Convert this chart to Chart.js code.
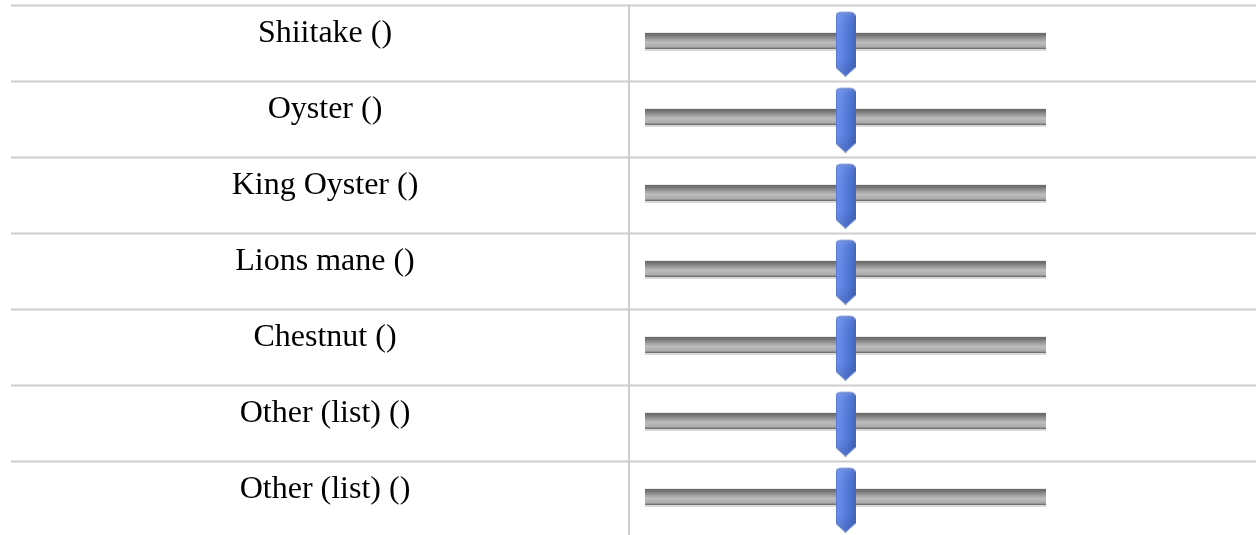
<!DOCTYPE html>
<html>
<head>
<meta charset="utf-8">
<script src="https://cdn.jsdelivr.net/npm/chart.js@4.4.1/dist/chart.umd.min.js"></script>
<style>
  html, body { margin: 0; padding: 0; background: #ffffff; overflow: hidden; }
  #wrap { width: 1256px; height: 545px; }
  canvas { display: block; }
</style>
</head>
<body>
<div id="wrap"><canvas id="c" width="1256" height="545"></canvas></div>
<script>
// ---- data ----
const categories = ["Shiitake ()", "Oyster ()", "King Oyster ()", "Lions mane ()", "Chestnut ()", "Other (list) ()", "Other (list) ()"];
const sliderValues = [50, 50, 50, 50, 50, 50, 50];
const sliderMin = 0;
const sliderMax = 100;

// ---- thumb image (pointStyle) ----
function makeThumb() {
  const w = 20, h = 66;
  const c = document.createElement('canvas');
  c.width = w; c.height = h;
  const g = c.getContext('2d');
  const path = () => {
    g.beginPath();
    const r = 4, top = 2, bodyBottom = 57, tip = 65.5;
    g.moveTo(0.5, top + r);
    g.quadraticCurveTo(0.5, top, 0.5 + r, top);
    g.lineTo(w - 0.5 - r, top);
    g.quadraticCurveTo(w - 0.5, top, w - 0.5, top + r);
    g.lineTo(w - 0.5, bodyBottom);
    g.lineTo(w / 2, tip);
    g.lineTo(0.5, bodyBottom);
    g.closePath();
  };
  path();
  const gr = g.createLinearGradient(0, 0, w, 0);
  gr.addColorStop(0, '#6f93ee');
  gr.addColorStop(0.45, '#5a80e2');
  gr.addColorStop(1, '#3f68c2');
  g.fillStyle = gr;
  g.fill();
  const gv = g.createLinearGradient(0, 0, 0, h);
  gv.addColorStop(0, 'rgba(255,255,255,0.35)');
  gv.addColorStop(0.08, 'rgba(255,255,255,0.05)');
  gv.addColorStop(0.7, 'rgba(0,0,0,0)');
  gv.addColorStop(1, 'rgba(0,20,80,0.15)');
  g.fillStyle = gv;
  g.fill();
  g.lineWidth = 1;
  g.strokeStyle = '#4566b8';
  g.stroke();
  return c;
}
const thumbImg = makeThumb();

// ---- table / track plugin ----
const tablePlugin = {
  id: 'table',
  beforeDatasetsDraw(chart) {
    const ctx = chart.ctx;
    const x = chart.scales.x, y = chart.scales.y;
    const band = y.getPixelForValue(1) - y.getPixelForValue(0);
    ctx.save();
    // grid lines
    ctx.strokeStyle = '#cdcdcd';
    ctx.lineWidth = 2;
    for (let i = 0; i < categories.length; i++) {
      const top = y.getPixelForValue(i) - band / 2;
      ctx.beginPath();
      ctx.moveTo(11, top);
      ctx.lineTo(1256, top);
      ctx.stroke();
    }
    const firstTop = y.getPixelForValue(0) - band / 2;
    ctx.beginPath();
    ctx.moveTo(629, firstTop - 1);
    ctx.lineTo(629, chart.height);
    ctx.stroke();

    // labels
    ctx.fillStyle = '#000000';
    ctx.font = '32px "Liberation Serif", "Times New Roman", serif';
    ctx.textAlign = 'center';
    ctx.textBaseline = 'alphabetic';
    categories.forEach((lab, i) => {
      const cy = y.getPixelForValue(i);
      ctx.fillText(lab, 325, cy - 1.5);
    });

    // tracks
    const x0 = x.getPixelForValue(sliderMin), x1 = x.getPixelForValue(sliderMax);
    categories.forEach((lab, i) => {
      const cy = y.getPixelForValue(i);
      const t = cy - 11.2, b = cy + 7.4;
      const gr = ctx.createLinearGradient(0, t, 0, b);
      gr.addColorStop(0, '#e2e2e2');
      gr.addColorStop(0.04, '#e2e2e2');
      gr.addColorStop(0.06, '#6b6b6b');
      gr.addColorStop(0.16, '#747474');
      gr.addColorStop(0.3, '#929292');
      gr.addColorStop(0.55, '#bcbcbc');
      gr.addColorStop(0.8, '#aaaaaa');
      gr.addColorStop(0.84, '#7a7a7a');
      gr.addColorStop(0.89, '#6e6e6e');
      gr.addColorStop(0.91, '#d6d6d6');
      gr.addColorStop(1, '#d6d6d6');
      ctx.fillStyle = gr;
      ctx.fillRect(x0, t, x1 - x0, b - t);
    });
    ctx.restore();
  }
};

new Chart(document.getElementById('c'), {
  type: 'scatter',
  data: {
    datasets: [{
      label: 'value',
      data: sliderValues.map((v, i) => ({ x: v, y: i })),
      pointStyle: thumbImg,
      pointRadius: 1,
      pointHoverRadius: 1,
      clip: false
    }]
  },
  options: {
    responsive: false,
    animation: false,
    events: [],
    layout: { autoPadding: false, padding: { left: 645, right: 210, top: 5.5, bottom: 7.5 } },
    plugins: { legend: { display: false }, tooltip: { enabled: false } },
    scales: {
      x: { type: 'linear', min: sliderMin, max: sliderMax, display: false },
      y: { type: 'category', labels: categories, offset: true, display: false }
    }
  },
  plugins: [tablePlugin]
});
</script>
</body>
</html>
